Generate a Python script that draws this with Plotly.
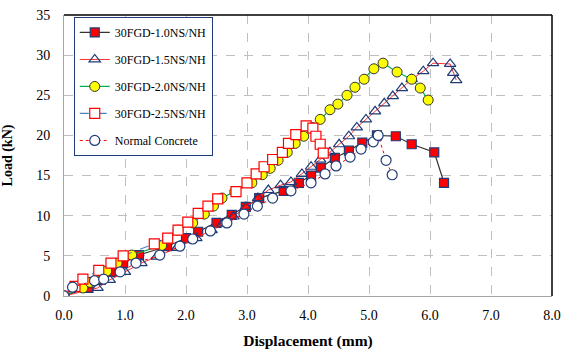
import plotly.graph_objects as go

names = ["30FGD-1.0NS/NH", "30FGD-1.5NS/NH", "30FGD-2.0NS/NH", "30FGD-2.5NS/NH", "Normal Concrete"]

x1 = [0, 0.4, 0.6, 0.77, 0.97, 1.23, 1.69, 2.0, 2.2, 2.5, 2.75, 2.98, 3.2, 3.6, 3.85, 4.05, 4.21, 4.44, 4.67, 4.89, 5.13, 5.44, 5.7, 6.07, 6.23]
y1 = [0, 1.0, 2.0, 3.0, 4.1, 5.1, 6.2, 7.2, 8.0, 9.1, 10.1, 11.1, 12.2, 13.1, 14.1, 15.0, 16.0, 17.2, 18.1, 19.1, 20.0, 19.9, 18.9, 17.9, 14.1]

x2 = [0, 0.55, 0.75, 1.0, 1.27, 1.52, 1.85, 2.17, 2.42, 2.6, 2.78, 2.98, 3.18, 3.35, 3.55, 3.72, 3.9, 4.05, 4.2, 4.36, 4.51, 4.67, 4.8, 4.95, 5.1, 5.25, 5.39, 5.54, 5.7, 5.89, 6.05, 6.33, 6.38, 6.43]
y2 = [0, 1.0, 2.0, 3.0, 4.1, 4.9, 6.0, 7.2, 8.2, 9.0, 9.9, 11.1, 12.2, 13.2, 13.8, 14.2, 15.2, 16.1, 17.0, 17.9, 18.9, 19.9, 21.0, 22.0, 23.0, 24.0, 24.9, 25.9, 27.0, 28.0, 29.0, 28.9, 27.8, 26.9]

x3 = [0, 0.31, 0.43, 0.52, 0.7, 0.87, 1.11, 1.6, 1.87, 2.11, 2.3, 2.45, 2.59, 2.8, 3.08, 3.25, 3.38, 3.51, 3.66, 3.79, 3.93, 4.07, 4.2, 4.36, 4.49, 4.64, 4.77, 4.92, 5.08, 5.23, 5.46, 5.7, 5.84, 5.97]
y3 = [0, 1.0, 1.7, 2.0, 3.1, 4.1, 5.1, 6.3, 8.2, 9.1, 10.2, 11.2, 12.2, 13.0, 14.1, 15.1, 15.9, 16.9, 17.9, 19.0, 19.9, 21.0, 22.0, 23.2, 23.9, 25.0, 26.0, 27.0, 28.3, 29.0, 27.9, 27.0, 25.9, 24.4]

x4 = [0, 0.18, 0.31, 0.57, 0.77, 0.97, 1.48, 1.7, 1.87, 2.03, 2.2, 2.36, 2.52, 2.82, 3.0, 3.15, 3.28, 3.42, 3.58, 3.68, 3.8, 3.97, 4.08, 4.13, 4.2, 4.25]
y4 = [0, 1.2, 2.1, 3.2, 4.1, 5.0, 6.5, 7.2, 8.2, 9.2, 10.3, 11.2, 12.1, 13.0, 14.1, 15.2, 16.1, 17.0, 17.9, 19.0, 20.1, 21.2, 20.9, 19.9, 18.9, 17.8]

x5 = [0, 0.14, 0.5, 0.65, 0.92, 1.18, 1.57, 1.9, 2.11, 2.4, 2.67, 2.95, 3.17, 3.42, 3.72, 4.05, 4.28, 4.46, 4.69, 4.87, 5.07, 5.15, 5.28, 5.38]
y5 = [0, 1.1, 1.9, 2.1, 3.0, 4.1, 5.1, 6.2, 7.1, 8.1, 9.1, 10.2, 11.2, 12.2, 13.1, 14.1, 15.2, 16.2, 17.3, 18.3, 19.2, 20.0, 16.9, 15.1]

x_ticks = [0, 1, 2, 3, 4, 5, 6, 7, 8]
y_ticks = [0, 5, 10, 15, 20, 25, 30, 35]

navy = "#1F3C78"
styles = [
    dict(line=dict(color="#333333", width=1.2),
         marker=dict(symbol="square", size=9, color="#FF0000", line=dict(color=navy, width=1.2))),
    dict(line=dict(color="#FF3030", width=1),
         marker=dict(symbol="triangle-up-open", size=10, color=navy, line=dict(color=navy, width=1.2))),
    dict(line=dict(color="#00B050", width=1.2),
         marker=dict(symbol="circle", size=10, color="#FFFF00", line=dict(color="#333333", width=1))),
    dict(line=dict(color="#4F81BD", width=1.2, dash="dash"),
         marker=dict(symbol="square", size=10, color="white", line=dict(color="#FF0000", width=1.2))),
    dict(line=dict(color="#FF0000", width=1, dash="dot"),
         marker=dict(symbol="circle", size=10, color="white", line=dict(color=navy, width=1.2))),
]

xs = [x1, x2, x3, x4, x5]
ys = [y1, y2, y3, y4, y5]

fig = go.Figure()
for i in range(5):
    fig.add_trace(go.Scatter(x=xs[i], y=ys[i], mode="lines+markers", name=names[i],
                             legendgroup=f"g{i}", **styles[i]))

font_family = "Liberation Serif"
fig.update_layout(
    width=564, height=350,
    margin=dict(l=64, r=12, t=15, b=54),
    paper_bgcolor="white", plot_bgcolor="white",
    font=dict(family=font_family, size=14, color="black"),
    showlegend=True,
    legend=dict(x=0.02, y=0.993, xanchor="left", yanchor="top",
                bgcolor="white", bordercolor=navy, borderwidth=1, itemwidth=30,
                font=dict(family=font_family, size=12), tracegroupgap=8),
    xaxis=dict(range=[0, 8], tickvals=x_ticks, tickformat=".1f", automargin=False,
               showgrid=True, gridcolor="#BFBFBF", griddash="dash", gridwidth=1,
               showline=True, linecolor="#A6A6A6", linewidth=1, zeroline=False,
               ticks="", ticklabelstandoff=6,
               title=dict(text="<b>Displacement (mm)</b>", font=dict(size=15.5), standoff=13)),
    yaxis=dict(range=[0, 35], tickvals=y_ticks, automargin=False,
               showgrid=True, gridcolor="#BFBFBF", griddash="dash", gridwidth=1,
               showline=True, linecolor="#A6A6A6", linewidth=1, zeroline=False,
               ticks="", ticklabelstandoff=10,
               title=dict(text="<b>Load (kN)</b>", font=dict(size=14), standoff=22)),
)
fig.add_shape(type="line", xref="paper", yref="paper", x0=0, x1=1, y0=1, y1=1,
              line=dict(color="black", width=1.5))
fig.add_shape(type="line", xref="paper", yref="paper", x0=1, x1=1, y0=0, y1=1,
              line=dict(color="black", width=1.5))

fig.write_html("out.html")
